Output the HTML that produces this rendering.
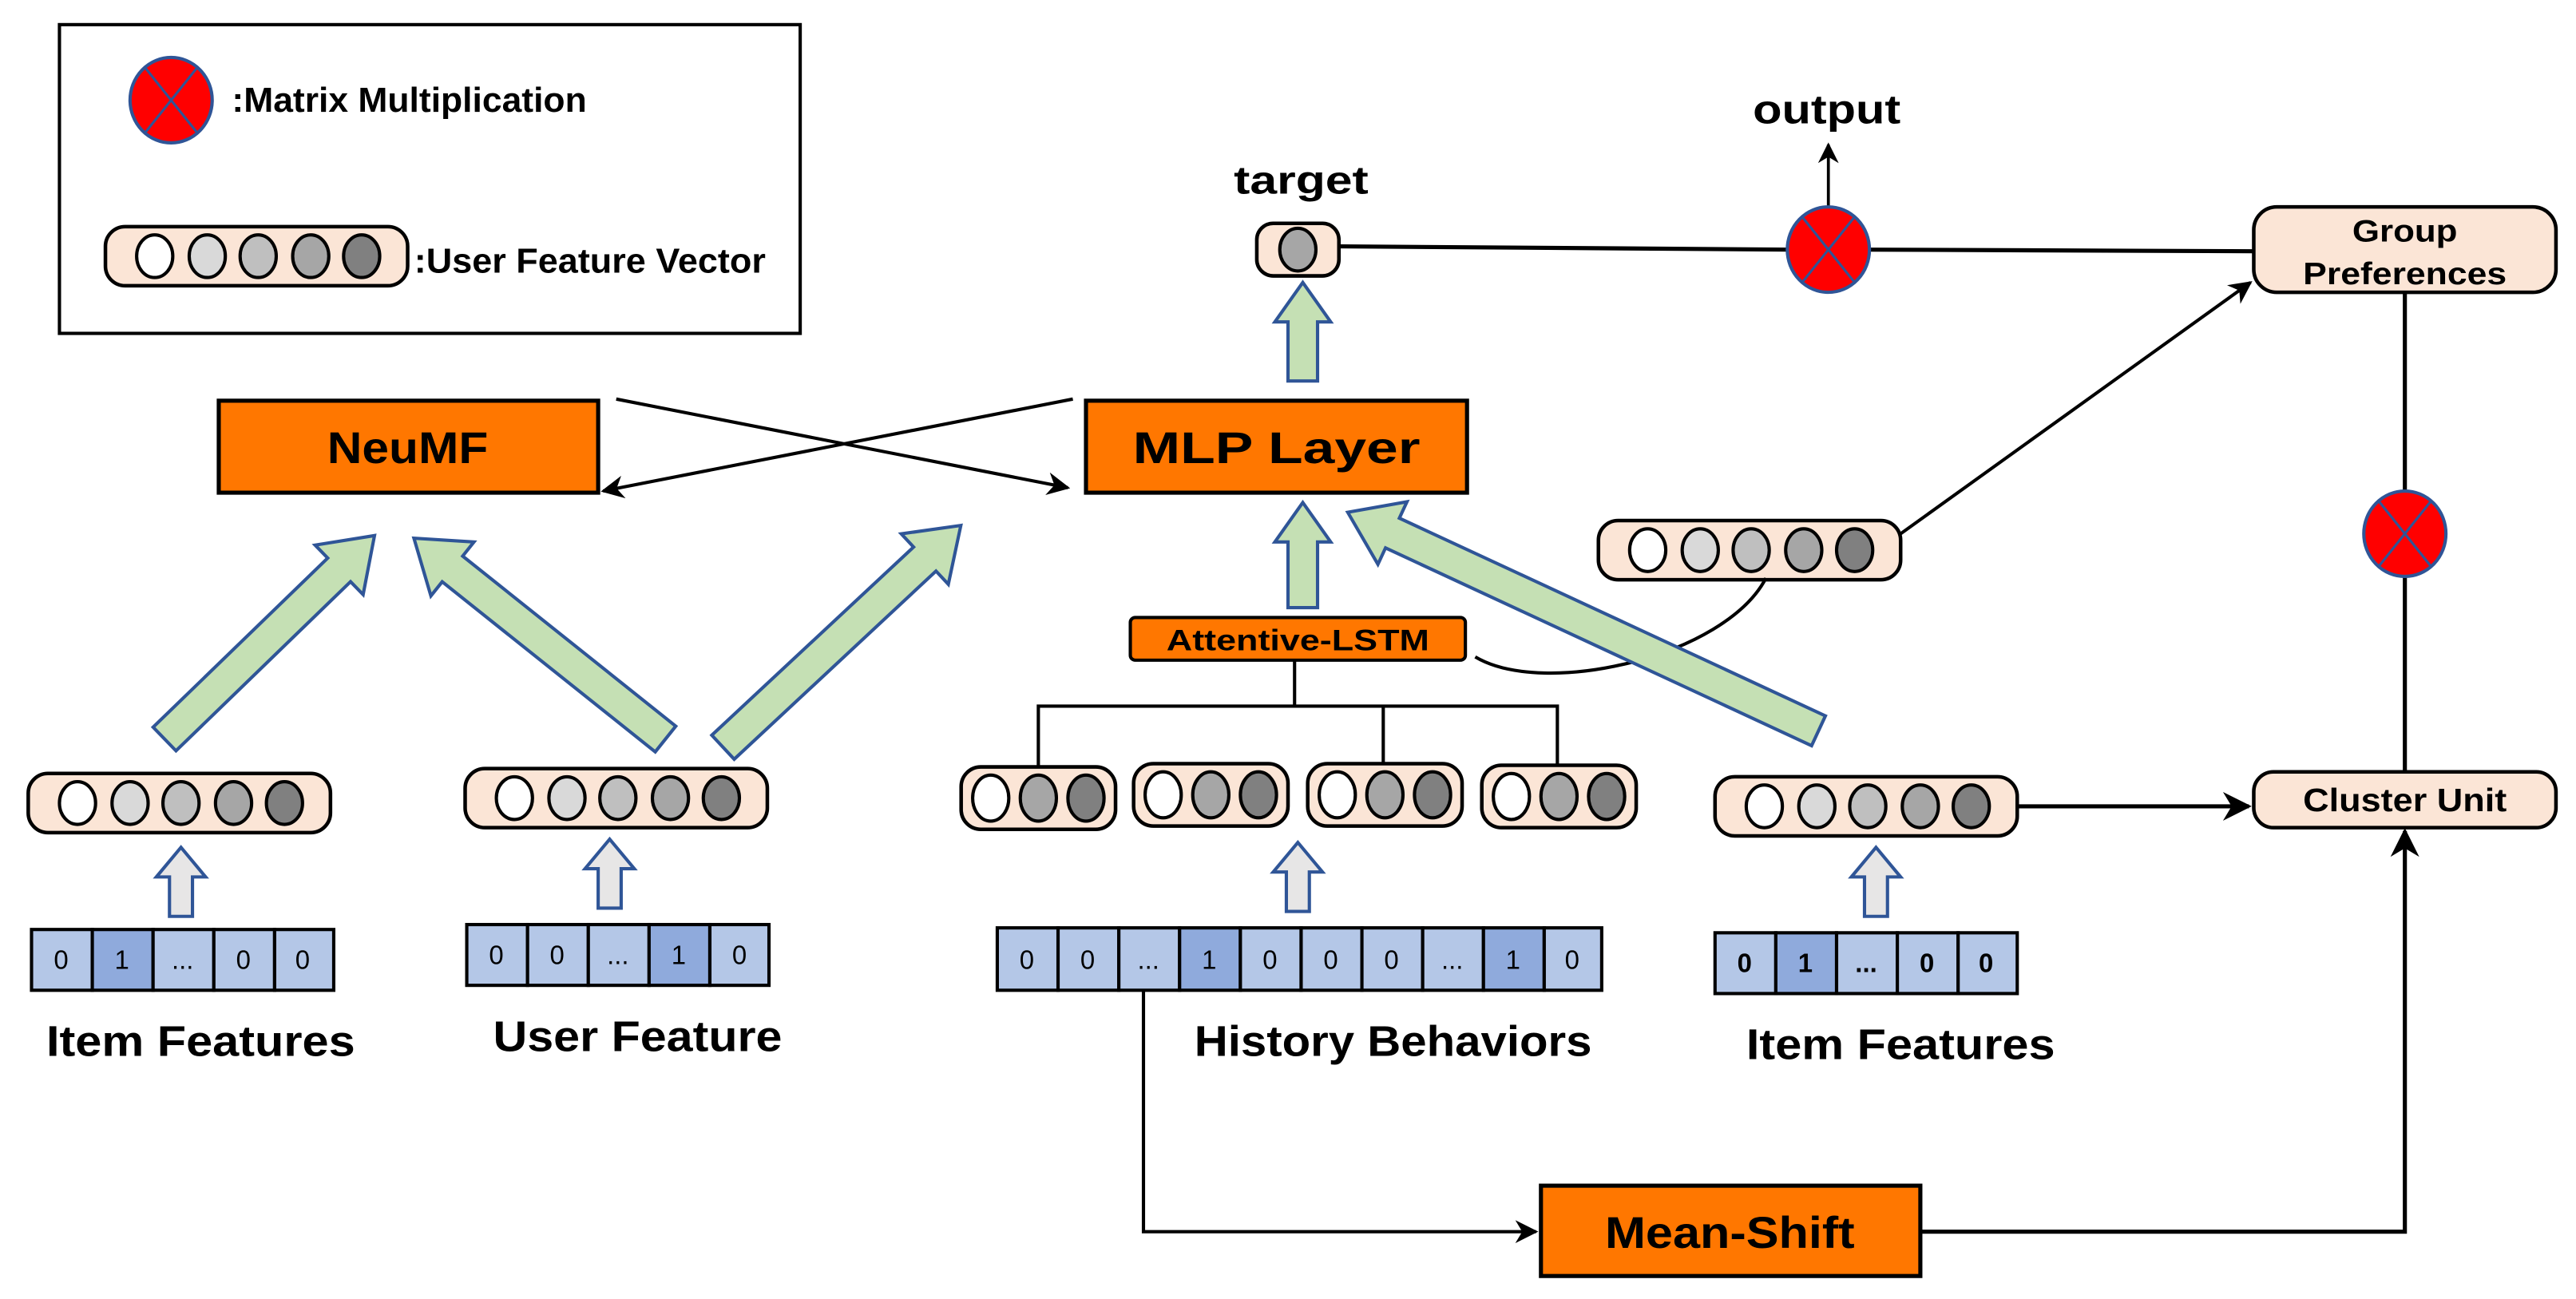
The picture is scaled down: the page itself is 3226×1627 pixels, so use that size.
<!DOCTYPE html>
<html><head><meta charset="utf-8"><style>
html,body{margin:0;padding:0;background:#fff}
svg{display:block}
text{font-family:"Liberation Sans Narrow","Liberation Sans",sans-serif;font-weight:bold;fill:#000}
</style></head><body>
<svg width="3226" height="1627" viewBox="0 0 1568 791" xmlns="http://www.w3.org/2000/svg">
<defs>
<marker id="ah" viewBox="0 0 10 10" refX="9" refY="5" markerWidth="7" markerHeight="7" orient="auto-start-reverse"><path d="M0,0 L10,5 L0,10 L3,5 z" fill="#000"/></marker>
<g id="v5">
<rect x="0" y="0" width="184" height="36" rx="12" fill="#FBE5D6" stroke="#000" stroke-width="2.2"/>
<ellipse cx="30" cy="18" rx="11" ry="13" fill="#fff" stroke="#000" stroke-width="2"/>
<ellipse cx="62" cy="18" rx="11" ry="13" fill="#D9D9D9" stroke="#000" stroke-width="2"/>
<ellipse cx="93" cy="18" rx="11" ry="13" fill="#BFBFBF" stroke="#000" stroke-width="2"/>
<ellipse cx="125" cy="18" rx="11" ry="13" fill="#A6A6A6" stroke="#000" stroke-width="2"/>
<ellipse cx="156" cy="18" rx="11" ry="13" fill="#808080" stroke="#000" stroke-width="2"/>
</g>
<g id="v3">
<rect x="0" y="0" width="94" height="38" rx="12" fill="#FBE5D6" stroke="#000" stroke-width="2.2"/>
<ellipse cx="18" cy="19" rx="11" ry="14" fill="#fff" stroke="#000" stroke-width="2"/>
<ellipse cx="47" cy="19" rx="11" ry="14" fill="#A6A6A6" stroke="#000" stroke-width="2"/>
<ellipse cx="76" cy="19" rx="11" ry="14" fill="#808080" stroke="#000" stroke-width="2"/>
</g>
<g id="mm">
<ellipse cx="0" cy="0" rx="25" ry="26" fill="#FF0000" stroke="#2F5597" stroke-width="2"/>
<line x1="-16" y1="-20" x2="16" y2="20" stroke="#2F5597" stroke-width="1.5"/>
<line x1="16" y1="-20" x2="-16" y2="20" stroke="#2F5597" stroke-width="1.5"/>
</g>
<g id="garrow"><polygon points="-7,0 -7,-24 -15,-24 0,-42 15,-24 7,-24 7,0" fill="#E7E6E6" stroke="#2F5597" stroke-width="2"/></g>
</defs>

<!-- legend -->
<rect x="36" y="15" width="451" height="188" fill="#fff" stroke="#000" stroke-width="2"/>
<use href="#mm" x="104" y="61"/>
<text x="141" y="68" font-size="21" textLength="216" lengthAdjust="spacingAndGlyphs">:Matrix Multiplication</text>
<use href="#v5" x="64" y="138"/>
<text x="252" y="166" font-size="21" textLength="214" lengthAdjust="spacingAndGlyphs">:User Feature Vector</text>

<!-- main boxes -->
<rect x="133" y="244" width="231" height="56" fill="#FF7700" stroke="#000" stroke-width="2.5"/>
<text x="248" y="282" font-size="27" text-anchor="middle" textLength="98" lengthAdjust="spacingAndGlyphs">NeuMF</text>
<rect x="661" y="244" width="232" height="56" fill="#FF7700" stroke="#000" stroke-width="2.5"/>
<text x="777" y="282" font-size="27" text-anchor="middle" textLength="175" lengthAdjust="spacingAndGlyphs">MLP Layer</text>

<line x1="375" y1="243" x2="650" y2="297" stroke="#000" stroke-width="2" marker-end="url(#ah)"/>
<line x1="653" y1="243" x2="367" y2="299" stroke="#000" stroke-width="2" marker-end="url(#ah)"/>

<!-- target -->
<text x="792" y="118" font-size="24" text-anchor="middle" textLength="82" lengthAdjust="spacingAndGlyphs">target</text>
<rect x="765" y="136" width="50" height="32" rx="10" fill="#FBE5D6" stroke="#000" stroke-width="2.2"/>
<ellipse cx="790" cy="152" rx="11" ry="13" fill="#A6A6A6" stroke="#000" stroke-width="2"/>

<line x1="815" y1="150" x2="1090" y2="152" stroke="#000" stroke-width="2.5"/>
<line x1="1138" y1="152" x2="1372" y2="153" stroke="#000" stroke-width="2.5"/>
<line x1="1113" y1="126" x2="1113" y2="88" stroke="#000" stroke-width="1.8" marker-end="url(#ah)"/>
<use href="#mm" x="1113" y="152"/>
<text x="1112" y="75" font-size="25" text-anchor="middle" textLength="90" lengthAdjust="spacingAndGlyphs">output</text>

<rect x="1372" y="126" width="184" height="52" rx="14" fill="#FBE5D6" stroke="#000" stroke-width="2.2"/>
<text x="1464" y="147" font-size="19" text-anchor="middle" textLength="64" lengthAdjust="spacingAndGlyphs">Group</text>
<text x="1464" y="173" font-size="19" text-anchor="middle" textLength="124" lengthAdjust="spacingAndGlyphs">Preferences</text>

<line x1="1464" y1="178" x2="1464" y2="470" stroke="#000" stroke-width="2.5"/>
<use href="#mm" x="1464" y="325"/>

<rect x="1372" y="470" width="184" height="34" rx="12" fill="#FBE5D6" stroke="#000" stroke-width="2.2"/>
<text x="1464" y="494" font-size="20" text-anchor="middle" textLength="124" lengthAdjust="spacingAndGlyphs">Cluster Unit</text>

<!-- mean shift -->
<rect x="938" y="722" width="231" height="55" fill="#FF7700" stroke="#000" stroke-width="2.5"/>
<text x="1053" y="760" font-size="27" text-anchor="middle" textLength="152" lengthAdjust="spacingAndGlyphs">Mean-Shift</text>
<polyline points="1169,750 1464,750 1464,506" fill="none" stroke="#000" stroke-width="2.5" marker-end="url(#ah)"/>
<polyline points="696,603 696,750 935,750" fill="none" stroke="#000" stroke-width="2" marker-end="url(#ah)"/>

<!-- right vectors -->
<use href="#v5" x="1044" y="473"/>
<line x1="1228" y1="491" x2="1369" y2="491" stroke="#000" stroke-width="2.5" marker-end="url(#ah)"/>
<use href="#v5" x="973" y="317"/>
<line x1="1157" y1="325" x2="1370" y2="172" stroke="#000" stroke-width="2" marker-end="url(#ah)"/>
<path d="M898,400 C940,425 1050,400 1075,352" fill="none" stroke="#000" stroke-width="2"/>

<!-- attentive lstm -->
<rect x="688" y="376" width="204" height="26" rx="3" fill="#FF7700" stroke="#000" stroke-width="2"/>
<text x="790" y="396" font-size="18" text-anchor="middle" textLength="160" lengthAdjust="spacingAndGlyphs">Attentive-LSTM</text>
<line x1="788" y1="402" x2="788" y2="430" stroke="#000" stroke-width="2"/>
<polyline points="632,466 632,430 948,430 948,466" fill="none" stroke="#000" stroke-width="2"/>
<line x1="842" y1="430" x2="842" y2="466" stroke="#000" stroke-width="2"/>
<use href="#v3" x="585" y="467"/>
<use href="#v3" x="690" y="465"/>
<use href="#v3" x="796" y="465"/>
<use href="#v3" x="902" y="466"/>

<!-- green arrows -->
<g fill="#C5E0B4" stroke="#2F5597" stroke-width="2" stroke-linejoin="miter">
<g transform="translate(793,232) rotate(-90)"><polygon points="60,0 36,-17 36,-9 0,-9 0,9 36,9 36,17"/></g>
<g transform="translate(793,370) rotate(-90)"><polygon points="64,0 40,-17 40,-9 0,-9 0,9 40,9 40,17"/></g>
<g transform="translate(100,450) rotate(-44.1)"><polygon points="178,0 148,-21 148,-10 0,-10 0,10 148,10 148,21"/></g>
<g transform="translate(405,450) rotate(-141.4)"><polygon points="196,0 166,-21 166,-10 0,-10 0,10 166,10 166,21"/></g>
<g transform="translate(440,455) rotate(-43)"><polygon points="198,0 168,-21 168,-10 0,-10 0,10 168,10 168,21"/></g>
<g transform="translate(1107,445) rotate(-155.1)"><polygon points="316,0 286,-21 286,-10 0,-10 0,10 286,10 286,21"/></g>
</g>

<!-- left vectors -->
<use href="#v5" x="17" y="471"/>
<use href="#v5" x="283" y="468"/>

<!-- gray arrows -->
<use href="#garrow" x="110" y="558"/>
<use href="#garrow" x="371" y="553"/>
<use href="#garrow" x="790" y="555"/>
<use href="#garrow" x="1142" y="558"/>

<!-- one-hot bars -->
<g stroke="#000" stroke-width="2">
<g transform="translate(19,566)">
<rect x="0" y="0" width="37" height="37" fill="#B4C7E7"/><rect x="37" y="0" width="37" height="37" fill="#8FAADC"/><rect x="74" y="0" width="37" height="37" fill="#B4C7E7"/><rect x="111" y="0" width="37" height="37" fill="#B4C7E7"/><rect x="148" y="0" width="36" height="37" fill="#B4C7E7"/>
</g>
<g transform="translate(284,563)">
<rect x="0" y="0" width="37" height="37" fill="#B4C7E7"/><rect x="37" y="0" width="37" height="37" fill="#B4C7E7"/><rect x="74" y="0" width="37" height="37" fill="#B4C7E7"/><rect x="111" y="0" width="37" height="37" fill="#8FAADC"/><rect x="148" y="0" width="36" height="37" fill="#B4C7E7"/>
</g>
<g transform="translate(607,565)">
<rect x="0" y="0" width="37" height="38" fill="#B4C7E7"/><rect x="37" y="0" width="37" height="38" fill="#B4C7E7"/><rect x="74" y="0" width="37" height="38" fill="#B4C7E7"/><rect x="111" y="0" width="37" height="38" fill="#8FAADC"/><rect x="148" y="0" width="37" height="38" fill="#B4C7E7"/><rect x="185" y="0" width="37" height="38" fill="#B4C7E7"/><rect x="222" y="0" width="37" height="38" fill="#B4C7E7"/><rect x="259" y="0" width="37" height="38" fill="#B4C7E7"/><rect x="296" y="0" width="37" height="38" fill="#8FAADC"/><rect x="333" y="0" width="35" height="38" fill="#B4C7E7"/>
</g>
<g transform="translate(1044,568)">
<rect x="0" y="0" width="37" height="37" fill="#B4C7E7"/><rect x="37" y="0" width="37" height="37" fill="#8FAADC"/><rect x="74" y="0" width="37" height="37" fill="#B4C7E7"/><rect x="111" y="0" width="37" height="37" fill="#B4C7E7"/><rect x="148" y="0" width="36" height="37" fill="#B4C7E7"/>
</g>
</g>
<g font-size="16" text-anchor="middle">
<text x="37" y="590" style="font-weight:normal">0</text><text x="74" y="590" style="font-weight:normal">1</text><text x="111" y="590" style="font-weight:normal">...</text><text x="148" y="590" style="font-weight:normal">0</text><text x="184" y="590" style="font-weight:normal">0</text>
<text x="302" y="587" style="font-weight:normal">0</text><text x="339" y="587" style="font-weight:normal">0</text><text x="376" y="587" style="font-weight:normal">...</text><text x="413" y="587" style="font-weight:normal">1</text><text x="450" y="587" style="font-weight:normal">0</text>
<text x="625" y="590" style="font-weight:normal">0</text><text x="662" y="590" style="font-weight:normal">0</text><text x="699" y="590" style="font-weight:normal">...</text><text x="736" y="590" style="font-weight:normal">1</text><text x="773" y="590" style="font-weight:normal">0</text><text x="810" y="590" style="font-weight:normal">0</text><text x="847" y="590" style="font-weight:normal">0</text><text x="884" y="590" style="font-weight:normal">...</text><text x="921" y="590" style="font-weight:normal">1</text><text x="957" y="590" style="font-weight:normal">0</text>
<text x="1062" y="592">0</text><text x="1099" y="592">1</text><text x="1136" y="592">...</text><text x="1173" y="592">0</text><text x="1209" y="592">0</text>
</g>

<!-- labels -->
<text x="122" y="643" font-size="26" text-anchor="middle" textLength="188" lengthAdjust="spacingAndGlyphs">Item Features</text>
<text x="388" y="640" font-size="26" text-anchor="middle" textLength="176" lengthAdjust="spacingAndGlyphs">User Feature</text>
<text x="848" y="643" font-size="26" text-anchor="middle" textLength="242" lengthAdjust="spacingAndGlyphs">History Behaviors</text>
<text x="1157" y="645" font-size="26" text-anchor="middle" textLength="188" lengthAdjust="spacingAndGlyphs">Item Features</text>
</svg>
</body></html>
